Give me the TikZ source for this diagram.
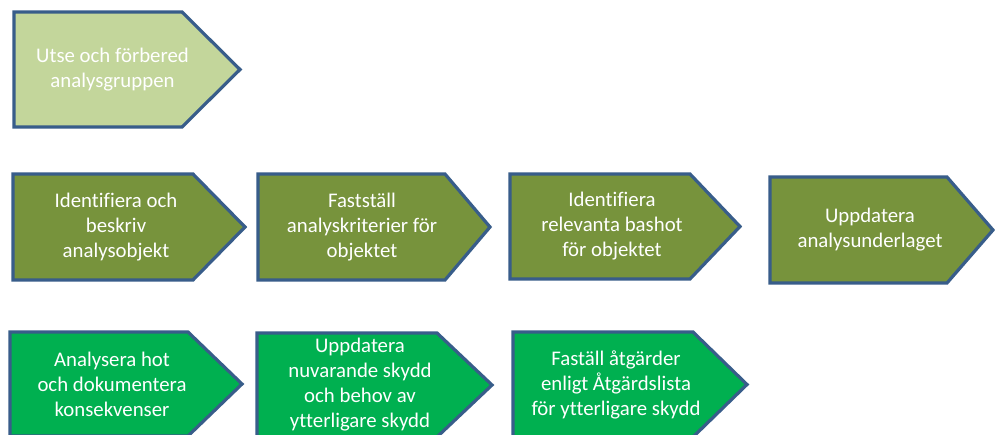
\documentclass[tikz,border=0pt]{standalone}
\usepackage{fontspec}
\setmainfont{Carlito}[Ligatures=NoCommon]
\definecolor{lightolive}{HTML}{C3D69B}
\definecolor{olive}{HTML}{77933C}
\definecolor{brightgreen}{HTML}{00B050}
\definecolor{outlineblue}{HTML}{385D8A}
\tikzset{
  plate/.style={draw=outlineblue, line width=3.2pt, line join=miter},
  platetext/.style={text=white, align=center, font=\fontsize{20.8}{25}\selectfont, inner sep=0pt}
}
% #1 name, #2 fill, #3 left, #4 shoulder, #5 tip, #6 top, #7 bottom, #8 text x, #9 text
\newcommand\homeplate[9]{%
  \path[plate, fill=#2] (#3,#6) -- (#4,#6) -- (#5,{(#6+#7)/2}) -- (#4,#7) -- (#3,#7) -- cycle;
  \node[platetext] (#1) at (#8,{(#6+#7)/2}) {#9};
}
\begin{document}
\begin{tikzpicture}[x=1pt,y=-1pt]
\useasboundingbox (0,0) rectangle (995,434);
\clip (0,0) rectangle (995,434);
\fill[white] (0,0) rectangle (995,434);
\homeplate{a}{lightolive}{14}{182}{240}{12}{127}{112.5}{Utse och förbered\\analysgruppen}
\homeplate{b1}{olive}{13}{193}{245}{174}{280}{116}{Identifiera och\\beskriv\\analysobjekt}
\homeplate{b2}{olive}{258}{445}{490}{174}{280}{362}{Fastställ\\analyskriterier för\\objektet}
\homeplate{b3}{olive}{510}{690}{740}{174}{279}{612}{Identifiera\\relevanta bashot\\för objektet}
\homeplate{b4}{olive}{770}{947}{993}{177}{283}{870}{Uppdatera\\analysunderlaget}
\homeplate{c1}{brightgreen}{10}{188}{242}{332}{436}{112}{Analysera hot\\och dokumentera\\konsekvenser}
\homeplate{c2}{brightgreen}{257}{437}{492}{333}{437}{360}{Uppdatera\\nuvarande skydd\\och behov av\\ytterligare skydd}
\homeplate{c3}{brightgreen}{513}{693}{747}{332}{437}{616}{Faställ åtgärder\\enligt Åtgärdslista\\för ytterligare skydd}
\end{tikzpicture}
\end{document}
